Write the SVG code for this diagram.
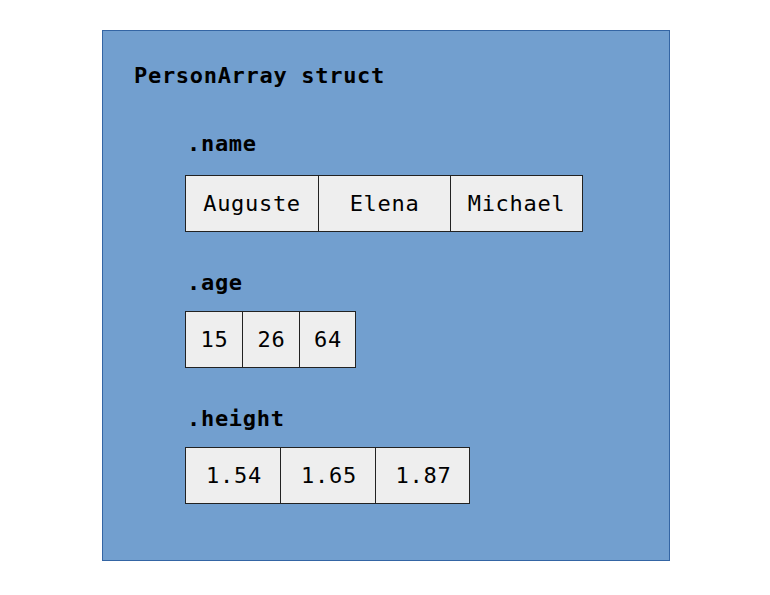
<svg xmlns="http://www.w3.org/2000/svg" width="770" height="595" viewBox="0 0 770 595">
<style>
text{font-family:"DejaVu Sans Mono","Liberation Mono",monospace;font-size:22px;letter-spacing:0.7px;fill:#000}
.b{font-weight:bold}
.cell{fill:#eeeeee;stroke:#222;stroke-width:1}
.v{text-anchor:middle}
</style>
<rect width="770" height="595" fill="#fff"/>
<g id="struct">
<rect x="102.5" y="30.5" width="567" height="530" fill="#729fcf" stroke="#3465a4" stroke-width="1"/>
<text class="b" x="134" y="83">PersonArray struct</text>
</g>
<g id="name">
<text class="b" x="187" y="151">.name</text>
<rect class="cell" x="185.5" y="175.5" width="133" height="56"/>
<rect class="cell" x="318.5" y="175.5" width="132" height="56"/>
<rect class="cell" x="450.5" y="175.5" width="132" height="56"/>
<text class="v" x="252" y="211">Auguste</text>
<text class="v" x="384.5" y="211">Elena</text>
<text class="v" x="516.5" y="211">Michael</text>
</g>
<g id="age">
<text class="b" x="187" y="290">.age</text>
<rect class="cell" x="185.5" y="311.5" width="57" height="56"/>
<rect class="cell" x="242.5" y="311.5" width="57" height="56"/>
<rect class="cell" x="299.5" y="311.5" width="56" height="56"/>
<text class="v" x="214.5" y="347">15</text>
<text class="v" x="271.5" y="347">26</text>
<text class="v" x="328" y="347">64</text>
</g>
<g id="height">
<text class="b" x="187" y="426">.height</text>
<rect class="cell" x="185.5" y="447.5" width="95" height="56"/>
<rect class="cell" x="280.5" y="447.5" width="95" height="56"/>
<rect class="cell" x="375.5" y="447.5" width="94" height="56"/>
<text class="v" x="234" y="483">1.54</text>
<text class="v" x="329" y="483">1.65</text>
<text class="v" x="423.5" y="483">1.87</text>
</g>
<g id="connectors"/>
</svg>
